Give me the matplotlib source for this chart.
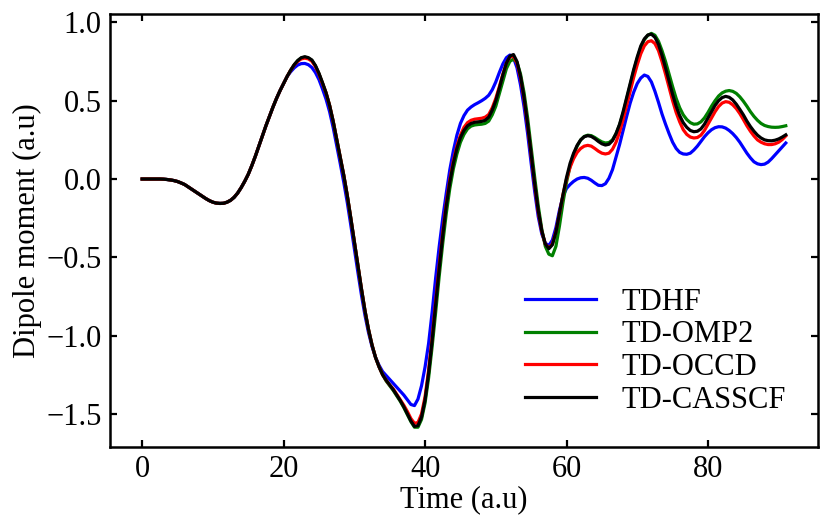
import numpy as np
import matplotlib
matplotlib.use("Agg")
import matplotlib.pyplot as plt

time = np.arange(0, 91.25, 0.5)

# t = 0 .. 20.5 : all four methods lie on top of each other
common_start = [0, 0, 0, 0, 0, 0, -0.001, -0.003, -0.006, -0.01,
                -0.016, -0.025, -0.035, -0.05, -0.065, -0.08, -0.095, -0.11, -0.125, -0.138,
                -0.148, -0.154, -0.156, -0.155, -0.148, -0.136, -0.117, -0.09, -0.055, -0.015,
                0.03, 0.085, 0.145, 0.21, 0.275, 0.34, 0.40, 0.46, 0.515, 0.565,
                0.61, 0.655]

# t = 21 .. 91
tdhf_tail = [0.685, 0.71, 0.728, 0.737, 0.738, 0.73, 0.712, 0.68, 0.635, 0.575,
             0.51, 0.43, 0.33, 0.215, 0.1, -0.02, -0.15, -0.295, -0.445, -0.595,
             -0.74, -0.87, -0.98, -1.07, -1.14, -1.19, -1.23, -1.255, -1.28, -1.305,
             -1.33, -1.355, -1.38, -1.41, -1.44, -1.447, -1.405, -1.32, -1.2, -1.05,
             -0.85, -0.63, -0.43, -0.25, -0.09, 0.06, 0.18, 0.28, 0.355, 0.405,
             0.44, 0.46, 0.475, 0.487, 0.5, 0.515, 0.535, 0.57, 0.62, 0.68,
             0.735, 0.775, 0.792, 0.775, 0.71, 0.6, 0.46, 0.29, 0.1, -0.08,
             -0.24, -0.35, -0.41, -0.425, -0.39, -0.31, -0.2, -0.11, -0.06, -0.035,
             -0.015, 0.0, 0.008, 0.01, 0.005, -0.008, -0.025, -0.04, -0.042, -0.03,
             0.005, 0.06, 0.14, 0.22, 0.31, 0.40, 0.485, 0.555, 0.61, 0.645,
             0.664, 0.655, 0.62, 0.56, 0.49, 0.415, 0.35, 0.29, 0.235, 0.195,
             0.17, 0.16, 0.158, 0.165, 0.185, 0.21, 0.24, 0.27, 0.295, 0.315,
             0.328, 0.334, 0.333, 0.325, 0.31, 0.29, 0.265, 0.235, 0.2, 0.165,
             0.135, 0.11, 0.097, 0.092, 0.095, 0.108, 0.13, 0.155, 0.18, 0.205,
             0.23]

tdomp2_tail = [0.695, 0.73, 0.756, 0.773, 0.778, 0.772, 0.757, 0.722, 0.672, 0.612,
               0.55, 0.47, 0.37, 0.255, 0.14, 0.025, -0.105, -0.25, -0.40, -0.55,
               -0.70, -0.84, -0.96, -1.06, -1.14, -1.2, -1.25, -1.29, -1.32, -1.35,
               -1.385, -1.42, -1.46, -1.505, -1.55, -1.585, -1.585, -1.535, -1.43, -1.27,
               -1.07, -0.85, -0.62, -0.41, -0.22, -0.06, 0.065, 0.16, 0.235, 0.285,
               0.32, 0.338, 0.345, 0.348, 0.35, 0.355, 0.37, 0.41, 0.465, 0.545,
               0.625, 0.705, 0.752, 0.765, 0.745, 0.67, 0.55, 0.39, 0.2, 0.01,
               -0.17, -0.32, -0.43, -0.48, -0.49, -0.43, -0.3, -0.15, -0.02, 0.08,
               0.155, 0.21, 0.25, 0.272, 0.28, 0.277, 0.265, 0.25, 0.237, 0.23,
               0.233, 0.25, 0.29, 0.345, 0.42, 0.51, 0.6, 0.69, 0.77, 0.84,
               0.89, 0.918, 0.93, 0.918, 0.88, 0.82, 0.75, 0.67, 0.59, 0.515,
               0.455, 0.41, 0.38, 0.36, 0.35, 0.352, 0.365, 0.39, 0.425, 0.465,
               0.5, 0.53, 0.55, 0.561, 0.565, 0.56, 0.547, 0.525, 0.497, 0.465,
               0.43, 0.4, 0.375, 0.355, 0.342, 0.335, 0.331, 0.33, 0.331, 0.335,
               0.34]

tdoccd_tail = [0.695, 0.728, 0.752, 0.767, 0.772, 0.767, 0.752, 0.718, 0.67, 0.61,
               0.55, 0.47, 0.37, 0.255, 0.14, 0.025, -0.105, -0.25, -0.40, -0.55,
               -0.70, -0.84, -0.96, -1.06, -1.14, -1.2, -1.25, -1.285, -1.315, -1.34,
               -1.375, -1.41, -1.445, -1.485, -1.53, -1.56, -1.555, -1.5, -1.39, -1.22,
               -1.01, -0.78, -0.55, -0.34, -0.155, -0.005, 0.115, 0.21, 0.28, 0.33,
               0.36, 0.375, 0.382, 0.385, 0.388, 0.395, 0.412, 0.455, 0.515, 0.59,
               0.67, 0.74, 0.78, 0.785, 0.74, 0.645, 0.51, 0.34, 0.15, -0.04,
               -0.21, -0.335, -0.415, -0.44, -0.415, -0.335, -0.22, -0.1, 0.0, 0.075,
               0.13, 0.17, 0.195, 0.21, 0.215, 0.21, 0.195, 0.178, 0.165, 0.16,
               0.165, 0.19, 0.235, 0.3, 0.38, 0.47, 0.56, 0.65, 0.73, 0.8,
               0.85, 0.877, 0.883, 0.865, 0.82, 0.75, 0.67, 0.585, 0.5, 0.425,
               0.365, 0.315, 0.285, 0.268, 0.262, 0.265, 0.28, 0.31, 0.35, 0.39,
               0.43, 0.463, 0.485, 0.494, 0.49, 0.474, 0.45, 0.418, 0.38, 0.34,
               0.305, 0.275, 0.25, 0.235, 0.225, 0.22, 0.22, 0.225, 0.235, 0.252,
               0.275]

tdcasscf_tail = [0.695, 0.73, 0.757, 0.775, 0.781, 0.775, 0.76, 0.725, 0.675, 0.615,
                 0.55, 0.47, 0.37, 0.255, 0.14, 0.025, -0.105, -0.25, -0.40, -0.55,
                 -0.70, -0.84, -0.96, -1.06, -1.14, -1.2, -1.25, -1.285, -1.315, -1.345,
                 -1.38, -1.415, -1.455, -1.5, -1.545, -1.58, -1.575, -1.52, -1.41, -1.24,
                 -1.03, -0.8, -0.57, -0.36, -0.17, -0.02, 0.1, 0.195, 0.265, 0.31,
                 0.34, 0.355, 0.362, 0.365, 0.368, 0.375, 0.395, 0.44, 0.5, 0.58,
                 0.665, 0.74, 0.785, 0.795, 0.75, 0.655, 0.52, 0.35, 0.16, -0.03,
                 -0.2, -0.33, -0.415, -0.445, -0.42, -0.34, -0.22, -0.1, 0.01, 0.1,
                 0.165, 0.215, 0.25, 0.27, 0.277, 0.272, 0.258, 0.24, 0.225, 0.217,
                 0.222, 0.245, 0.29, 0.35, 0.43, 0.52, 0.61, 0.7, 0.78, 0.85,
                 0.895, 0.92, 0.925, 0.905, 0.86, 0.79, 0.71, 0.625, 0.54, 0.465,
                 0.405, 0.36, 0.33, 0.31, 0.302, 0.305, 0.32, 0.35, 0.39, 0.43,
                 0.47, 0.5, 0.52, 0.528, 0.522, 0.505, 0.478, 0.445, 0.41, 0.37,
                 0.335, 0.305, 0.28, 0.262, 0.25, 0.245, 0.244, 0.248, 0.256, 0.268,
                 0.282]

labels = ["TDHF", "TD-OMP2", "TD-OCCD", "TD-CASSCF"]
colors = ["b", "g", "r", "k"]
series = [common_start + tdhf_tail, common_start + tdomp2_tail,
          common_start + tdoccd_tail, common_start + tdcasscf_tail]

plt.rcParams["font.family"] = ["Liberation Serif", "DejaVu Serif"]

fig = plt.figure(figsize=(8.3, 5.27), dpi=100)
ax = fig.add_axes([0.1325, 0.152, 0.853, 0.822])

for y, lab, c in zip(series, labels, colors):
    ax.plot(time, y, color=c, lw=2.3, label=lab)

ax.set_xlabel("Time (a.u)", fontsize=22, labelpad=1)
ax.set_ylabel("Dipole moment (a.u)", fontsize=22, labelpad=3)
ax.set_xticks([0, 20, 40, 60, 80])
ax.set_yticks([-1.5, -1.0, -0.5, 0.0, 0.5, 1.0])
ax.tick_params(direction="in", top=True, right=True, length=5, width=1.6,
               labelsize=22, pad=6)
for s in ax.spines.values():
    s.set_linewidth(1.8)

ax.legend(loc="lower right", frameon=False, fontsize=22, handlelength=2.3,
          handletextpad=0.85, labelspacing=0.12, borderaxespad=0.65)

fig.savefig("out.png", dpi=100)
